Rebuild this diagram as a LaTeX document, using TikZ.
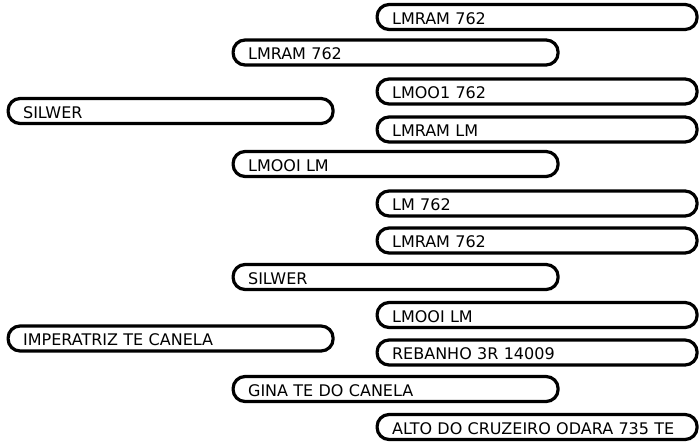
\documentclass[tikz,border=0pt]{standalone}
\usepackage{fontspec}
\setmainfont{DejaVu Sans}
\begin{document}
\begin{tikzpicture}[x=1pt,y=-1pt,
  pedbox/.style={draw=black, line width=3.2pt, rounded corners=12pt,
    minimum height=25pt, inner xsep=15pt, inner ysep=0pt,
    text width=#1, text height=14.5pt, text depth=0pt, anchor=west,
    font=\fontsize{16pt}{18pt}\selectfont, align=left},
  pedbox/.default=295pt,
  narrowbox/.style={pedbox=290pt}]
\useasboundingbox (0,0) rectangle (699,444);
% column 1
\node[pedbox] (a1) at (6.5,111) {SILWER};
\node[pedbox] (a2) at (6.5,338.5) {IMPERATRIZ TE CANELA};
% column 2
\node[pedbox] (b1) at (231.5,52.5) {LMRAM 762};
\node[pedbox] (b2) at (231.5,164) {LMOOI LM};
\node[pedbox] (b3) at (231.5,277) {SILWER};
\node[pedbox] (b4) at (231.5,389) {GINA TE DO CANELA};
% column 3
\node[narrowbox] (c1) at (375.5,17) {LMRAM 762};
\node[narrowbox] (c2) at (375.5,91.5) {LMOO1 762};
\node[narrowbox] (c3) at (375.5,129.5) {LMRAM LM};
\node[narrowbox] (c4) at (375.5,203.5) {LM 762};
\node[narrowbox] (c5) at (375.5,240.5) {LMRAM 762};
\node[narrowbox] (c6) at (375.5,315) {LMOOI LM};
\node[narrowbox] (c7) at (375.5,352.5) {REBANHO 3R 14009};
\node[narrowbox] (c8) at (375.5,427) {ALTO DO CRUZEIRO ODARA 735 TE};
\end{tikzpicture}
\end{document}
